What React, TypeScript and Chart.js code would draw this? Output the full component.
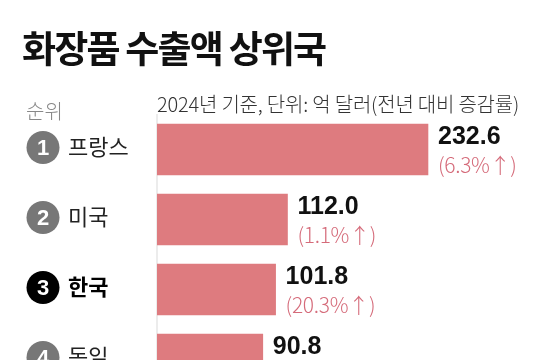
import React, { useEffect, useRef } from "react";
import { Chart, registerables } from "chart.js";

Chart.register(...registerables);

const ranks = ["1", "2", "3", "4"];
const countries = ["프랑스", "미국", "한국", "독일"];
const values = [232.6, 112.0, 101.8, 90.8];
const changes = ["(6.3%↑)", "(1.1%↑)", "(20.3%↑)", ""];
const highlight = [false, false, true, false];
const titleText = "화장품 수출액 상위국";
const subtitleText = "2024년 기준, 단위: 억 달러(전년 대비 증감률)";
const rankHeader = "순위";

const FONT = '"Noto Sans CJK KR", "Noto Sans", sans-serif';
const NUMFONT = '"Liberation Sans", Arial, sans-serif';

const overlay = {
  id: "overlay",
  afterDraw(chart: any) {
    const ctx = chart.ctx as CanvasRenderingContext2D;
    const y = chart.scales.y;
    const meta = chart.getDatasetMeta(0);
    ctx.save();
    // title
    ctx.fillStyle = "#111";
    ctx.textBaseline = "middle";
    ctx.textAlign = "left";
    ctx.font = `bold 37px ${FONT}`;
    (ctx as any).letterSpacing = "-1.8px";
    ctx.fillText(titleText, 22, 49);
    (ctx as any).letterSpacing = "-0.2px";
    ctx.font = `300 20px ${FONT}`;
    ctx.fillStyle = "#333";
    ctx.fillText(subtitleText, 157, 104);
    ctx.fillStyle = "#888";
    ctx.font = `300 20px ${FONT}`;
    (ctx as any).letterSpacing = "0px";
    ctx.fillText(rankHeader, 26, 111);

    countries.forEach((c, i) => {
      const cy = y.getPixelForValue(i);
      const bar = meta.data[i];
      // circle
      ctx.beginPath();
      ctx.arc(43, cy - 2, 16.5, 0, Math.PI * 2);
      ctx.fillStyle = highlight[i] ? "#000" : "#777";
      ctx.fill();
      ctx.fillStyle = "#fff";
      ctx.textAlign = "center";
      ctx.font = `bold 22px ${NUMFONT}`;
      ctx.fillText(ranks[i], 43, cy - 1);
      // country
      ctx.textAlign = "left";
      ctx.fillStyle = highlight[i] ? "#000" : "#222";
      ctx.font = `${highlight[i] ? "bold" : "normal"} 22px ${FONT}`;
      ctx.fillText(c, 68, cy - 3);
      // value
      const bx = bar.x + 10;
      ctx.fillStyle = "#111";
      ctx.font = `bold 25px ${NUMFONT}`;
      ctx.fillText(values[i].toFixed(1), bx, cy - 12);
      if (changes[i]) {
        ctx.fillStyle = "#d56b7a";
        ctx.font = `300 21px ${FONT}`;
        (ctx as any).letterSpacing = "-0.3px";
        ctx.fillText(changes[i], bx, cy + 16);
        (ctx as any).letterSpacing = "0px";
      }
    });
    ctx.restore();
  },
};

export default function App() {
  const ref = useRef<HTMLCanvasElement>(null);
  useEffect(() => {
    document.body.style.margin = "0";
    document.body.style.overflow = "hidden";
    const chart = new Chart(ref.current!, {
      type: "bar",
      data: {
        labels: countries,
        datasets: [
          {
            data: values,
            backgroundColor: "#de7b7f",
            barThickness: 51,
          },
        ],
      },
      options: {
        indexAxis: "y",
        responsive: false,
        animation: false,
        layout: { padding: { left: 157, right: 30.5, top: 114.5, bottom: 25.5 } },
        plugins: { legend: { display: false }, tooltip: { enabled: false }, title: { display: false } },
        scales: {
          x: { display: false, min: 0, max: 300 },
          y: {
            display: true,
            ticks: { display: false },
            grid: { display: false, drawTicks: false },
            border: { display: true, color: "#ececec", width: 2 },
          },
        },
      },
      plugins: [overlay],
    });
    return () => chart.destroy();
  }, []);
  return (
    <div style={{ width: 537, height: 360, overflow: "hidden", background: "#fff" }}>
      <canvas ref={ref} width={537} height={420} style={{ display: "block" }} />
    </div>
  );
}
